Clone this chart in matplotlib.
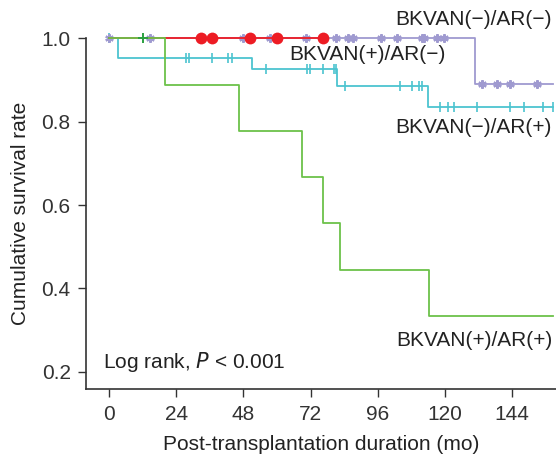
import numpy as np
import matplotlib
matplotlib.use("Agg")
import matplotlib.pyplot as plt

plt.rcParams['font.family'] = ['Liberation Sans', 'DejaVu Sans']

# Kaplan-Meier steps (time in months, survival after step)
neg_neg_t = [0, 131]
neg_neg_s = [1.0, 0.89]
neg_neg_cens = [0, 14.6, 47.9, 57.5, 70.3, 81, 85.3, 87.3, 97.2, 102.8, 111.7,
                112.7, 117.1, 119.7, 133.5, 138.8, 143.3, 152.9]

pos_neg_t = [0]
pos_neg_s = [1.0]
pos_neg_cens = [33, 36.7, 50.2, 59.9, 76.3]

neg_pos_t = [0, 3, 50.9, 81.5, 113.9]
neg_pos_s = [1.0, 0.952, 0.926, 0.885, 0.836]
neg_pos_cens = [0, 27.3, 28.5, 36.6, 42.6, 43.8, 56, 70.6, 71.8, 76.3, 80.5, 81.1,
                84.3, 104, 108.2, 110.9, 111.7, 118.3, 121.2, 123.3, 131.4,
                143.3, 148.3, 155.2, 158.8]

pos_pos_t = [0, 20, 46.5, 69, 76.5, 82.6, 114.4]
pos_pos_s = [1.0, 0.889, 0.778, 0.667, 0.556, 0.444, 0.333]
pos_pos_cens = [12.2]

end_t = 158.8
red_end = 76.3

purple = '#9f9ad0'
red = '#ed1c24'
cyan = '#4cc4d0'
green = '#6cc24a'
axcol = '#333333'


def surv_at(t_steps, s_steps, t):
    idx = np.searchsorted(t_steps, t, side='right') - 1
    return np.array(s_steps)[idx]


def draw(ax, t_steps, s_steps, cens, end, color, marker, ms, mew, z, mcolor=None, mfc=None):
    xs = list(t_steps) + [end]
    ys = list(s_steps) + [s_steps[-1]]
    ax.plot(xs, ys, drawstyle='steps-post', color=color, lw=1.3, zorder=z, clip_on=False)
    cy = surv_at(t_steps, s_steps, cens)
    mc = mcolor if mcolor else color
    ax.plot(cens, cy, linestyle='none', marker=marker, ms=ms, mew=mew, color=mc,
            mfc=mfc if mfc else mc, zorder=z + 0.5, clip_on=False)


fig = plt.figure(figsize=(5.56, 4.61), dpi=100)
ax = fig.add_axes([86 / 556, 71.7 / 461, 1 - 86 / 556, (389.3 - 38.3) / 461])

draw(ax, neg_pos_t, neg_pos_s, neg_pos_cens, end_t, cyan, '|', 7, 1.2, 2)
draw(ax, neg_neg_t, neg_neg_s, neg_neg_cens, end_t, purple, (6, 2, 0), 6, 1.6, 3)
draw(ax, pos_neg_t, pos_neg_s, pos_neg_cens, red_end, red, 'o', 8.5, 0, 4)
draw(ax, pos_pos_t, pos_pos_s, pos_pos_cens, end_t, green, '+', 7, 1.4, 5, mcolor='#2aa040')

ax.set_xlim(-8.3, 159.8)
ax.set_ylim(0.158, 1.0)
ax.set_xticks([0, 24, 48, 72, 96, 120, 144])
ax.set_yticks([0.2, 0.4, 0.6, 0.8, 1.0])
ax.set_yticklabels(['0.2', '0.4', '0.6', '0.8', '1.0'])
for s in ['top', 'right']:
    ax.spines[s].set_visible(False)
for s in ['left', 'bottom']:
    ax.spines[s].set_color(axcol)
    ax.spines[s].set_linewidth(1.2)
ax.tick_params(direction='out', length=6, width=1, colors=axcol, labelsize=15, pad=5)

ax.set_xlabel('Post-transplantation duration (mo)', fontsize=15, color='#222222', labelpad=8)
ax.set_ylabel('Cumulative survival rate', fontsize=15, color='#222222', labelpad=8)

tk = dict(fontsize=15, color='#222222', va='center')
ax.text(158.4, 1.046, 'BKVAN(\u2212)/AR(\u2212)', ha='right', clip_on=False, **tk)
ax.text(64.4, 0.962, 'BKVAN(+)/AR(\u2212)', ha='left', **tk)
ax.text(158.4, 0.787, 'BKVAN(\u2212)/AR(+)', ha='right', **tk)
ax.text(158.4, 0.276, 'BKVAN(+)/AR(+)', ha='right', **tk)
ax.text(-2.2, 0.223, 'Log rank, $\\it{P}$ < 0.001', ha='left', **tk)

fig.savefig('out.png', dpi=100)
